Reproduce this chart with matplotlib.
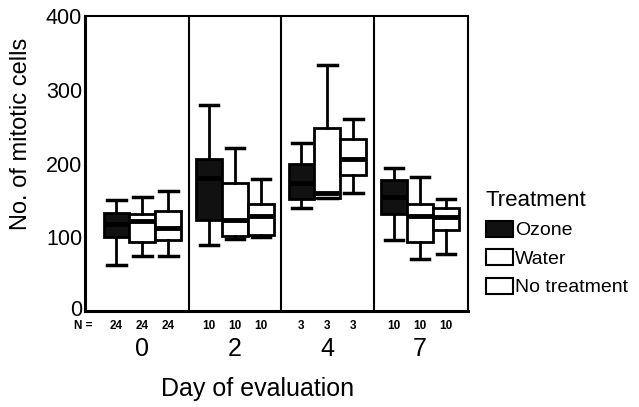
import matplotlib
matplotlib.use("Agg")
import matplotlib.pyplot as plt
from matplotlib.patches import Patch
from matplotlib.transforms import blended_transform_factory, ScaledTranslation

plt.rcParams['font.family'] = ['Liberation Sans', 'DejaVu Sans']

days = ['0', '2', '4', '7']
treatments = ['Ozone', 'Water', 'No treatment']
n_counts = [24, 10, 3, 10]

ozone_whislo = [63, 89, 139, 96]
ozone_q1 = [101, 123, 152, 132]
ozone_med = [118, 180, 174, 155]
ozone_q3 = [133, 206, 199, 178]
ozone_whishi = [150, 280, 228, 194]

water_whislo = [74, 97, 153, 71]
water_q1 = [94, 102, 153, 93]
water_med = [122, 123, 160, 129]
water_q3 = [131, 173, 248, 145]
water_whishi = [154, 221, 334, 182]

none_whislo = [74, 101, 160, 77]
none_q1 = [96, 103, 184, 110]
none_med = [113, 129, 206, 127]
none_q3 = [136, 145, 233, 139]
none_whishi = [163, 179, 261, 152]

series = [
    (ozone_whislo, ozone_q1, ozone_med, ozone_q3, ozone_whishi),
    (water_whislo, water_q1, water_med, water_q3, water_whishi),
    (none_whislo, none_q1, none_med, none_q3, none_whishi),
]
facecolors = ['#111111', 'white', 'white']

fig = plt.figure(figsize=(6.39, 4.07), dpi=100)
ax = fig.add_axes([85/639, 1 - 311/407, (468-85)/639, (311-16)/407])

bw = 0.28
offsets = [-bw, 0, bw]
for k, (wl, q1, med, q3, wh) in enumerate(series):
    stats = []
    for i in range(len(days)):
        stats.append(dict(whislo=wl[i], q1=q1[i], med=med[i], q3=q3[i],
                          whishi=wh[i], fliers=[]))
    pos = [i + offsets[k] for i in range(len(days))]
    ax.bxp(stats, positions=pos, widths=bw, capwidths=0.2, patch_artist=True,
           showfliers=False,
           boxprops=dict(facecolor=facecolors[k], edgecolor='black', linewidth=2),
           whiskerprops=dict(color='black', linewidth=2),
           capprops=dict(color='black', linewidth=2.5),
           medianprops=dict(color='black', linewidth=3.5),
           manage_ticks=False)

for sep in [0.5, 1.5, 2.5]:
    ax.axvline(sep, color='black', linewidth=1.5)

ax.set_xlim(-0.62, 3.52)
ax.set_ylim(0, 400)
ax.set_yticks([0, 100, 200, 300, 400])
ax.set_xticks(range(len(days)))
ax.set_xticklabels(days, fontsize=18)
ax.tick_params(axis='x', length=0, pad=19)
ax.tick_params(axis='y', length=0, pad=2, labelsize=15.5)
for s in ax.spines.values():
    s.set_linewidth(1.5)
ax.spines['left'].set_linewidth(2.2)
ax.spines['bottom'].set_linewidth(2.2)

zero_label = ax.yaxis.get_major_ticks()[0].label1
zero_label.set_transform(zero_label.get_transform() +
                         ScaledTranslation(0, 3/100, fig.dpi_scale_trans))

trans = blended_transform_factory(ax.transData, ax.transAxes)
for i, n in enumerate(n_counts):
    for off in offsets:
        ax.text(i + off, -0.05, str(n), transform=trans, ha='center', va='center',
                fontsize=8.5, fontweight='bold')
ax.text(-0.005, -0.05, 'N =', transform=ax.transAxes, ha='center', va='center',
        fontsize=8.5, fontweight='bold')

ax.set_xlabel('Day of evaluation', fontsize=18)
ax.xaxis.set_label_coords(0.45, -0.225)
ax.set_ylabel('No. of mitotic cells', fontsize=17)
ax.yaxis.set_label_coords(-0.138, 0.60)

handles = [Patch(facecolor=fc, edgecolor='black', linewidth=1.5) for fc in facecolors]
leg = fig.legend(handles, treatments, title='Treatment', loc='upper left',
                 bbox_to_anchor=(478/639, 1 - 182/407), frameon=False,
                 fontsize=14, title_fontsize=16, handlelength=1.4, handleheight=0.9,
                 handletextpad=0.1, labelspacing=0.5, borderaxespad=0, alignment='left')

fig.savefig('out.png', dpi=100)
